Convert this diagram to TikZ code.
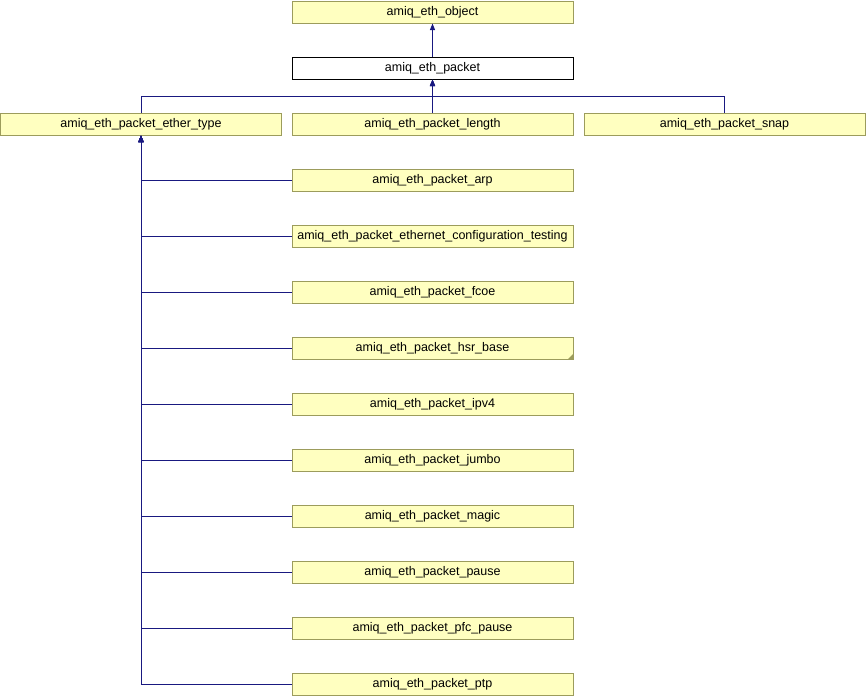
\documentclass[tikz,border=0pt]{standalone}
\usepackage{fontspec}
\setmainfont{Liberation Sans}
\usetikzlibrary{arrows.meta}
\definecolor{boxfill}{RGB}{255,255,192}
\definecolor{boxline}{RGB}{156,156,92}
\definecolor{edgecol}{RGB}{25,25,128}
\tikzset{
  cls/.style={draw=boxline, fill=boxfill, line width=1pt, minimum width=281pt, minimum height=22pt, inner sep=0pt, font=\fontsize{12.5}{14}\selectfont},
  curcls/.style={cls, draw=black, fill=white},
  edge/.style={draw=edgecol, line width=1pt, -{Triangle[length=6.5pt,width=5pt]}}
}
\begin{document}
\begin{tikzpicture}[x=1pt,y=-1pt]
\useasboundingbox (0,0) rectangle (866,696);
\node[cls] (object) at (432.5,12) {amiq\_eth\_object};
\node[curcls] (packet) at (432.5,68) {amiq\_eth\_packet};
\node[cls] (ether) at (141,124) {amiq\_eth\_packet\_ether\_type};
\node[cls] (length) at (432.5,124) {amiq\_eth\_packet\_length};
\node[cls] (snap) at (724.5,124) {amiq\_eth\_packet\_snap};
\node[cls] (arp) at (432.5,180) {amiq\_eth\_packet\_arp};
\node[cls] (ect) at (432.5,236) {amiq\_eth\_packet\_ethernet\_configuration\_testing};
\node[cls] (fcoe) at (432.5,292) {amiq\_eth\_packet\_fcoe};
\node[cls] (hsr) at (432.5,348) {amiq\_eth\_packet\_hsr\_base};
\node[cls] (ipv4) at (432.5,404) {amiq\_eth\_packet\_ipv4};
\node[cls] (jumbo) at (432.5,460) {amiq\_eth\_packet\_jumbo};
\node[cls] (magic) at (432.5,516) {amiq\_eth\_packet\_magic};
\node[cls] (pause) at (432.5,572) {amiq\_eth\_packet\_pause};
\node[cls] (pfc) at (432.5,628) {amiq\_eth\_packet\_pfc\_pause};
\node[cls] (ptp) at (432.5,684) {amiq\_eth\_packet\_ptp};
% folded corner of hsr_base
\fill[boxline] ([xshift=-0.5pt,yshift=0.5pt]hsr.south east) -- ++(0,-5) -- ++(-5,5) -- cycle;
\coordinate (bus) at (432.5,96);
\draw[edge] (packet.north) -- (object.south);
\draw[edge] (length.north) -- (packet.south);
\draw[edge] (ether.north) |- (bus) -- (packet.south);
\draw[edge] (snap.north) |- (bus) -- (packet.south);
\foreach \c in {arp,ect,fcoe,hsr,ipv4,jumbo,magic,pause,pfc,ptp}{
  \draw[edge] (\c.west) -| (ether.south);
}
\end{tikzpicture}
\end{document}
